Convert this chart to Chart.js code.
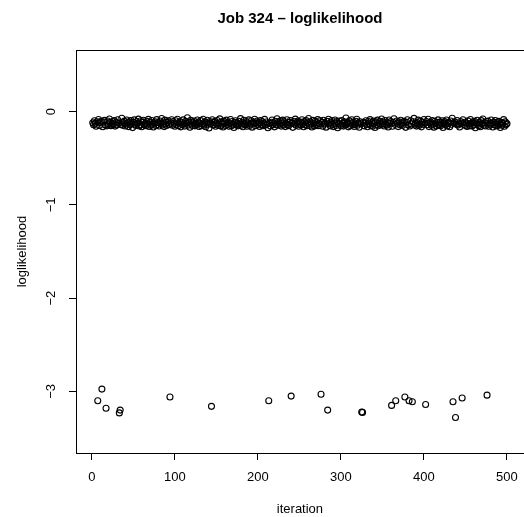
<!DOCTYPE html>
<html>
<head>
<meta charset="utf-8">
<script src="https://cdn.jsdelivr.net/npm/chart.js@4.4.1/dist/chart.umd.min.js"></script>
<style>
html,body{margin:0;padding:0;background:#fff;overflow:hidden;width:524px;height:517px;}
#wrap{width:524px;height:517px;overflow:hidden;position:relative;}
canvas{display:block;}
</style>
</head>
<body>
<div id="wrap"><canvas id="c" width="528" height="517"></canvas></div>
<script>
// ---- data ----
const titleText = "Job 324 \u2013 loglikelihood";
const xTitle = "iteration";
const yTitle = "loglikelihood";
const xTicks = [0, 100, 200, 300, 400, 500];
const xTickLabels = ["0", "100", "200", "300", "400", "500"];
const yTicks = [0, -1, -2, -3];
const yTickLabels = ["0", "\u22121", "\u22122", "\u22123"];

// loglikelihood of the main band, iterations 1..500
const bandLL = [
-0.121,-0.142,-0.098,-0.127,-0.158,-0.109,-0.134,-0.085,-0.149,-0.118,-0.103,-0.137,-0.162,-0.112,-0.094,-0.145,-0.124,-0.153,-0.101,-0.131,-0.079,-0.116,-0.151,-0.139,-0.106,
-0.132,-0.097,-0.156,-0.114,-0.143,-0.088,-0.126,-0.167,-0.108,-0.138,-0.072,-0.147,-0.119,-0.102,-0.154,-0.133,-0.091,-0.122,-0.161,-0.111,-0.141,-0.096,-0.128,-0.172,-0.115,
-0.089,-0.136,-0.148,-0.107,-0.125,-0.081,-0.155,-0.139,-0.099,-0.163,-0.117,-0.093,-0.142,-0.129,-0.151,-0.104,-0.133,-0.084,-0.159,-0.113,-0.146,-0.095,-0.137,-0.166,-0.121,
-0.109,-0.148,-0.086,-0.138,-0.119,-0.154,-0.101,-0.127,-0.074,-0.144,-0.112,-0.161,-0.092,-0.134,-0.149,-0.116,-0.098,-0.139,-0.169,-0.123,-0.087,-0.146,-0.106,-0.128,-0.157,
-0.099,-0.136,-0.082,-0.152,-0.122,-0.107,-0.164,-0.114,-0.142,-0.089,-0.131,-0.156,-0.103,-0.124,-0.066,-0.145,-0.113,-0.168,-0.094,-0.133,-0.149,-0.118,-0.101,-0.153,-0.127,
-0.139,-0.091,-0.114,-0.159,-0.125,-0.097,-0.151,-0.133,-0.083,-0.146,-0.111,-0.163,-0.121,-0.093,-0.137,-0.176,-0.108,-0.127,-0.154,-0.087,-0.143,-0.116,-0.104,-0.157,-0.131,
-0.096,-0.147,-0.123,-0.078,-0.155,-0.111,-0.135,-0.166,-0.102,-0.121,-0.149,-0.092,-0.138,-0.114,-0.158,-0.127,-0.085,-0.152,-0.106,-0.137,-0.171,-0.119,-0.098,-0.144,-0.125,
-0.153,-0.104,-0.132,-0.076,-0.146,-0.115,-0.162,-0.093,-0.129,-0.141,-0.108,-0.157,-0.122,-0.089,-0.148,-0.134,-0.099,-0.167,-0.113,-0.127,-0.083,-0.151,-0.121,-0.101,-0.139,
-0.119,-0.159,-0.095,-0.137,-0.107,-0.152,-0.126,-0.084,-0.145,-0.112,-0.133,-0.173,-0.098,-0.127,-0.155,-0.115,-0.091,-0.142,-0.123,-0.164,-0.103,-0.136,-0.077,-0.147,-0.113,
-0.131,-0.100,-0.156,-0.122,-0.092,-0.144,-0.109,-0.161,-0.128,-0.087,-0.138,-0.151,-0.116,-0.096,-0.154,-0.124,-0.169,-0.106,-0.134,-0.081,-0.147,-0.119,-0.102,-0.158,-0.136,
-0.113,-0.145,-0.088,-0.131,-0.163,-0.108,-0.139,-0.097,-0.152,-0.122,-0.075,-0.148,-0.111,-0.134,-0.166,-0.094,-0.126,-0.155,-0.103,-0.143,-0.119,-0.086,-0.151,-0.129,-0.099,
-0.144,-0.116,-0.158,-0.093,-0.136,-0.124,-0.167,-0.105,-0.147,-0.082,-0.131,-0.153,-0.114,-0.096,-0.139,-0.161,-0.122,-0.090,-0.149,-0.108,-0.174,-0.127,-0.101,-0.137,-0.152,
-0.095,-0.128,-0.156,-0.111,-0.143,-0.069,-0.134,-0.119,-0.164,-0.100,-0.150,-0.123,-0.088,-0.142,-0.113,-0.159,-0.136,-0.104,-0.083,-0.147,-0.121,-0.168,-0.109,-0.131,-0.094,
-0.146,-0.115,-0.153,-0.126,-0.099,-0.138,-0.162,-0.106,-0.133,-0.086,-0.149,-0.118,-0.157,-0.102,-0.128,-0.171,-0.111,-0.142,-0.092,-0.152,-0.124,-0.103,-0.139,-0.080,-0.132,
-0.113,-0.155,-0.096,-0.136,-0.147,-0.121,-0.165,-0.090,-0.127,-0.108,-0.143,-0.158,-0.116,-0.077,-0.137,-0.151,-0.101,-0.125,-0.161,-0.111,-0.141,-0.093,-0.131,-0.148,-0.119,
-0.104,-0.138,-0.169,-0.114,-0.087,-0.145,-0.124,-0.154,-0.098,-0.133,-0.159,-0.109,-0.073,-0.144,-0.127,-0.156,-0.119,-0.092,-0.150,-0.136,-0.101,-0.164,-0.115,-0.137,-0.085,
-0.126,-0.152,-0.106,-0.142,-0.082,-0.161,-0.121,-0.112,-0.147,-0.095,-0.135,-0.167,-0.103,-0.130,-0.155,-0.118,-0.089,-0.143,-0.113,-0.151,-0.134,-0.099,-0.171,-0.124,-0.108,
-0.142,-0.091,-0.154,-0.128,-0.115,-0.163,-0.101,-0.136,-0.071,-0.148,-0.122,-0.111,-0.158,-0.137,-0.096,-0.145,-0.131,-0.166,-0.106,-0.124,-0.153,-0.088,-0.139,-0.114,-0.149,
-0.122,-0.160,-0.100,-0.133,-0.151,-0.085,-0.127,-0.156,-0.111,-0.141,-0.104,-0.174,-0.123,-0.093,-0.137,-0.152,-0.116,-0.162,-0.097,-0.131,-0.079,-0.146,-0.119,-0.155,-0.107,
-0.136,-0.102,-0.157,-0.124,-0.144,-0.090,-0.128,-0.165,-0.113,-0.139,-0.096,-0.153,-0.121,-0.148,-0.105,-0.132,-0.170,-0.114,-0.146,-0.126,-0.086,-0.158,-0.110,-0.138,-0.129
];

// iterations whose loglikelihood dropped near -3
const outlierIter = [7, 12, 17, 33, 34, 94, 144, 213, 240, 276, 284, 325, 326, 361, 366, 377, 382, 386, 402, 435, 438, 446, 476];
const outlierLL   = [-3.10, -2.975, -3.18, -3.23, -3.20, -3.06, -3.16, -3.10, -3.05, -3.03, -3.20, -3.22, -3.225, -3.15, -3.10, -3.06, -3.10, -3.11, -3.14, -3.11, -3.28, -3.07, -3.04];

// ---- build chart data ----
const bandPoints = [];
bandLL.forEach((v, i) => {
  const it = i + 1;
  if (outlierIter.indexOf(it) === -1) bandPoints.push({x: it, y: v});
});
const outlierPoints = outlierIter.map((it, i) => ({x: it, y: outlierLL[i]}));

const FONT = '"Liberation Sans", Arial, Helvetica, sans-serif';

const pointStyle = {
  showLine: false,
  pointStyle: 'circle',
  pointRadius: 3,
  pointHoverRadius: 3,
  pointBorderWidth: 1.1,
  pointBorderColor: '#000',
  pointBackgroundColor: 'rgba(0,0,0,0)'
};

const textPlugin = {
  id: 'rtext',
  afterDraw(chart) {
    const ctx = chart.ctx;
    const ca = chart.chartArea;
    const xs = chart.scales.x, ys = chart.scales.y;
    ctx.save();
    // frame (top & right edges of the plot box)
    ctx.strokeStyle = '#000';
    ctx.lineWidth = 1;
    ctx.beginPath();
    ctx.moveTo(Math.round(ca.left) + 0.5, Math.round(ca.top) + 0.5);
    ctx.lineTo(Math.round(ca.right) + 0.5, Math.round(ca.top) + 0.5);
    ctx.lineTo(Math.round(ca.right) + 0.5, Math.round(ca.bottom) + 0.5);
    ctx.stroke();

    ctx.fillStyle = '#000';
    // title
    ctx.font = 'bold 15px ' + FONT;
    ctx.textAlign = 'center';
    ctx.textBaseline = 'alphabetic';
    ctx.fillText(titleText, (ca.left + ca.right) / 2, 23);

    // x tick labels
    ctx.font = '13px ' + FONT;
    xTicks.forEach((v, i) => {
      ctx.fillText(xTickLabels[i], xs.getPixelForValue(v), 481);
    });
    // x title
    ctx.fillText(xTitle, (ca.left + ca.right) / 2, 513);

    // y tick labels (rotated, parallel to axis)
    yTicks.forEach((v, i) => {
      ctx.save();
      ctx.translate(55, ys.getPixelForValue(v));
      ctx.rotate(-Math.PI / 2);
      ctx.textAlign = 'center';
      ctx.fillText(yTickLabels[i], 0, 0);
      ctx.restore();
    });
    // y title
    ctx.save();
    ctx.translate(26, (ca.top + ca.bottom) / 2);
    ctx.rotate(-Math.PI / 2);
    ctx.textAlign = 'center';
    ctx.fillText(yTitle, 0, 0);
    ctx.restore();

    ctx.restore();
  }
};

new Chart(document.getElementById('c'), {
  type: 'scatter',
  data: {
    datasets: [
      Object.assign({label: 'band', data: bandPoints}, pointStyle),
      Object.assign({label: 'outliers', data: outlierPoints}, pointStyle)
    ]
  },
  options: {
    responsive: false,
    animation: false,
    devicePixelRatio: 1,
    events: [],
    layout: {padding: {top: 50, left: 0, right: 2, bottom: 0}},
    plugins: {legend: {display: false}, tooltip: {enabled: false}, title: {display: false}},
    scales: {
      x: {
        type: 'linear',
        position: 'bottom',
        min: -19.2,
        max: 520.4,
        afterBuildTicks: s => { s.ticks = xTicks.map(v => ({value: v})); },
        afterFit: s => { s.height = 64; },
        ticks: {display: false},
        grid: {drawOnChartArea: false, drawTicks: true, tickLength: 7, color: '#000', lineWidth: 1},
        border: {display: true, color: '#000', width: 1},
        title: {display: false}
      },
      y: {
        type: 'linear',
        position: 'left',
        min: -3.66,
        max: 0.66,
        afterBuildTicks: s => { s.ticks = yTicks.map(v => ({value: v})); },
        afterFit: s => { s.width = 76; },
        ticks: {display: false},
        grid: {drawOnChartArea: false, drawTicks: true, tickLength: 7, color: '#000', lineWidth: 1},
        border: {display: true, color: '#000', width: 1},
        title: {display: false}
      }
    }
  },
  plugins: [textPlugin]
});
</script>
</body>
</html>
